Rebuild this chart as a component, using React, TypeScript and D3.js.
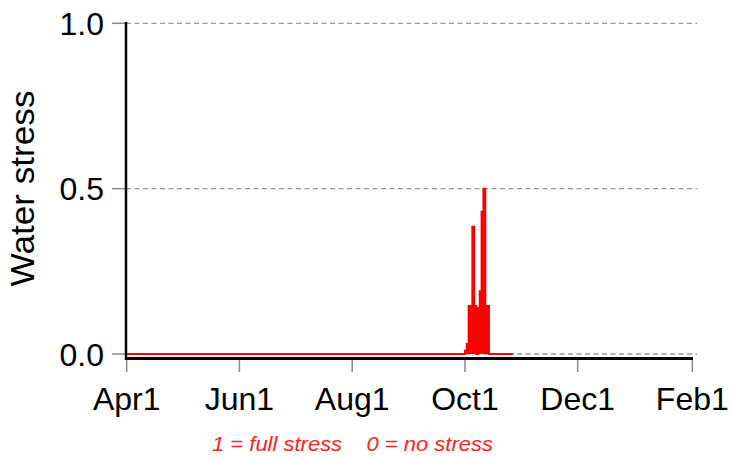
import React, { useRef, useEffect } from 'react';
import * as d3 from 'd3';

// x axis tick dates and labels
const TICK_DATES = ['2021-04-01', '2021-06-01', '2021-08-01', '2021-10-01', '2021-12-01', '2022-02-01'];
const TICK_LABELS = ['Apr1', 'Jun1', 'Aug1', 'Oct1', 'Dec1', 'Feb1'];
const Y_TICKS = [0, 0.5, 1];

// daily water stress (0 everywhere else in the simulated period)
const SERIES_START = '2021-04-01';
const SERIES_END = '2021-10-27';
const STRESS_DATES = [
  '2021-10-01', '2021-10-02', '2021-10-03', '2021-10-04', '2021-10-05', '2021-10-06', '2021-10-07',
  '2021-10-08', '2021-10-09', '2021-10-10', '2021-10-11', '2021-10-12', '2021-10-13', '2021-10-14',
];
const STRESS_VALUES = [0.01, 0.03, 0.145, 0.145, 0.385, 0.145, 0, 0.14, 0.19, 0.43, 0.5, 0.145, 0.145, 0];

export default function App() {
  const svgRef = useRef<SVGSVGElement>(null);

  useEffect(() => {
    if (!svgRef.current) return;
    const parse = d3.timeParse('%Y-%m-%d');
    const svg = d3.select(svgRef.current);
    svg.selectAll('*').remove();

    const x = d3.scaleTime().domain([parse(TICK_DATES[0])!, parse(TICK_DATES[TICK_DATES.length - 1])!]).range([126.7, 692.3]);
    const y = d3.scaleLinear().domain([0, 1]).range([354, 23.3]);

    const pts: [Date, number][] = [[parse(SERIES_START)!, 0]];
    STRESS_DATES.forEach((d, i) => pts.push([parse(d)!, STRESS_VALUES[i]]));
    pts.push([parse(SERIES_END)!, 0]);

    const font = '"Liberation Sans", Arial, sans-serif';
    const grey = '#8c8c8c';

    // grid lines + y ticks
    Y_TICKS.forEach((t) => {
      svg.append('line').attr('x1', 126).attr('x2', 697).attr('y1', y(t)).attr('y2', y(t))
        .attr('stroke', '#999').attr('stroke-width', 1.3).attr('stroke-dasharray', '5,3.5');
      svg.append('line').attr('x1', 112).attr('x2', 126).attr('y1', y(t)).attr('y2', y(t))
        .attr('stroke', grey).attr('stroke-width', 1.5);
      svg.append('text').attr('x', 104).attr('y', y(t)).attr('dy', '0.36em').attr('text-anchor', 'end')
        .attr('font-family', font).attr('font-size', 32).attr('fill', '#000').text(d3.format('.1f')(t));
    });

    // data
    const area = d3.area<[Date, number]>().x(d => x(d[0])).y0(y(0)).y1(d => y(d[1])).curve(d3.curveStepAfter);
    const line = d3.line<[Date, number]>().x(d => x(d[0])).y(d => y(d[1])).curve(d3.curveStepAfter);
    svg.append('path').datum(pts).attr('d', area).attr('fill', '#ff0000');
    svg.append('path').datum(pts).attr('d', line).attr('fill', 'none').attr('stroke', '#ff0000').attr('stroke-width', 2);

    // x ticks
    TICK_DATES.forEach((d, i) => {
      const px = x(parse(d)!);
      svg.append('line').attr('x1', px).attr('x2', px).attr('y1', 358).attr('y2', 372).attr('stroke', grey).attr('stroke-width', 1.5);
      svg.append('text').attr('x', px).attr('y', 410).attr('text-anchor', 'middle')
        .attr('font-family', font).attr('font-size', 32).attr('fill', '#000').text(TICK_LABELS[i]);
    });

    // axis lines
    svg.append('line').attr('x1', 126).attr('x2', 693).attr('y1', 358.5).attr('y2', 358.5).attr('stroke', '#000').attr('stroke-width', 3);
    svg.append('line').attr('x1', 126).attr('x2', 126).attr('y1', 22).attr('y2', 360).attr('stroke', '#000').attr('stroke-width', 2.5);

    svg.append('text').attr('transform', 'translate(34,188.5) rotate(-90)').attr('text-anchor', 'middle')
      .attr('font-family', font).attr('font-size', 33).attr('fill', '#000')
      .attr('textLength', 196).attr('lengthAdjust', 'spacingAndGlyphs').text('Water stress');

    svg.append('text').attr('x', 352.5).attr('y', 451).attr('text-anchor', 'middle').attr('font-style', 'italic')
      .attr('font-family', font).attr('font-size', 21).attr('fill', '#ff2020').attr('xml:space', 'preserve')
      .attr('textLength', 281).attr('lengthAdjust', 'spacingAndGlyphs')
      .style('white-space', 'pre').text('1 = full stress    0 = no stress');
  }, []);

  return (
    <svg ref={svgRef} width={732} height={457} style={{ position: 'absolute', left: 0, top: 0, background: '#fff' }} />
  );
}
